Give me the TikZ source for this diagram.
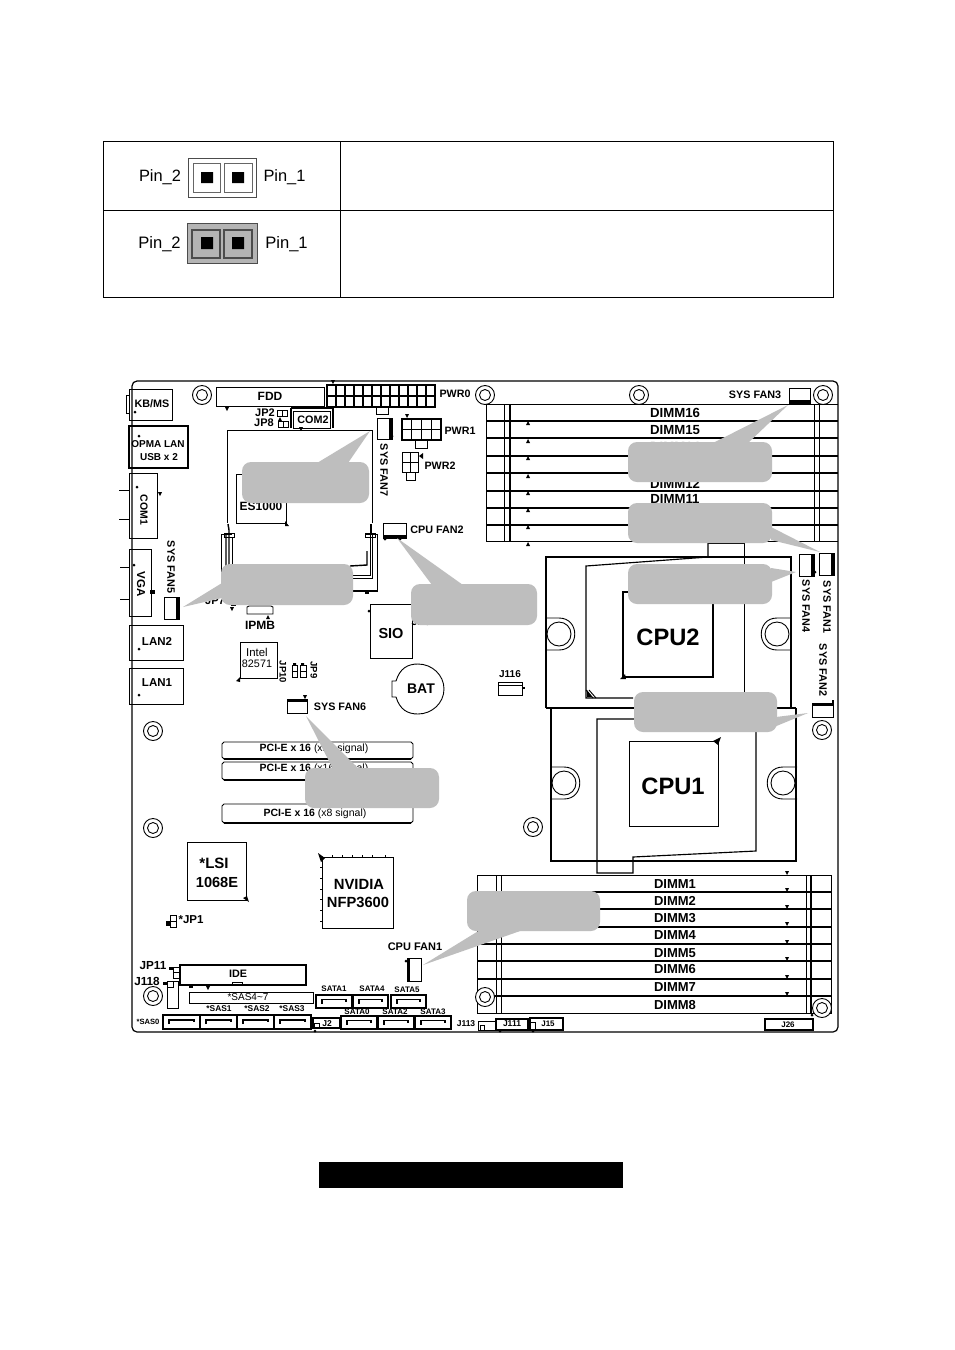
\documentclass[tikz,border=0pt]{standalone}
\usepackage{fontspec}
\setmainfont{Liberation Sans}
\definecolor{blob}{HTML}{BEBEBE}
\definecolor{pinfill}{HTML}{B4B4B4}
\tikzset{
  x=1pt,y=-1pt,
  every path/.style={line width=.9pt,line join=miter},
  ln/.style={draw=black},
  hv/.style={draw=black,line width=1.4pt},
  sink/.style={draw=black,line width=1.15pt},
  heavy/.style={draw=black,line width=3pt},
  blobnode/.style={fill=blob,draw=none,rounded corners=9pt,inner sep=0pt},
  tailfill/.style={fill=blob,draw=none},
  lab/.style={inner sep=0pt,font=\bfseries,text=black,align=center},
  reg/.style={inner sep=0pt,text=black,align=center},
  cellrule/.style={draw=black,line width=.85pt},
}
% text: name, size, x, y, text
\newcommand\tb[5]{\node[lab,font=\fontsize{#2}{#2}\selectfont\bfseries] (#1) at (#3,#4) {#5};}
\newcommand\tr[5]{\node[lab,rotate=-90,font=\fontsize{#2}{#2}\selectfont\bfseries] (#1) at (#3,#4) {#5};}
\newcommand\tn[5]{\node[reg,font=\fontsize{#2}{#2}\selectfont] (#1) at (#3,#4) {#5};}
% rectangle
\newcommand\bx[4]{\draw[ln] (#1,#2) rectangle (#3,#4);}
\newcommand\hvbx[4]{\draw[hv] (#1,#2) rectangle (#3,#4);}
\newcommand\dotp[2]{\fill (#1,#2) circle[radius=1.5pt];}
\newcommand\trid[2]{\fill ({#1-2},{#2-2}) -- ({#1+2},{#2-2}) -- (#1,{#2+2}) -- cycle;}
\newcommand\triu[2]{\fill ({#1-2},{#2+2}) -- ({#1+2},{#2+2}) -- (#1,{#2-2}) -- cycle;}
\newcommand\hole[2]{\draw[ln,fill=white] (#1,#2) circle[radius=9.5pt] (#1,#2) circle[radius=5.5pt];}
% callout: name, x1,y1,x2,y2, tip, base1, base2
\newcommand\callout[8]{%
  \coordinate (#1tip) at (#6);\coordinate (#1a) at (#7);\coordinate (#1b) at (#8);
  \node[blobnode,minimum width={#4pt-#2pt},minimum height={#5pt-#3pt}] (#1) at ({(#2+#4)/2},{(#3+#5)/2}) {};
  \fill[tailfill] (#1tip) -- (#1a) -- (#1b) -- cycle;}
% PCI slot
\newcommand\slot[4]{\draw[ln] ({#1+2},#2)--({#3-2},#2)--(#3,{#2+2})--(#3,{#4-2})--({#3-2},#4)--({#1+2},#4)--(#1,{#4-2})--(#1,{#2+2})--cycle;
  \draw[hv] ({#1+2},#4)--({#3-2},#4);}
% SATA style connector
\newcommand\sata[4]{\draw[hv] (#1,#2) rectangle (#3,#4);
  \draw[hv,line width=1.2pt] ({#1+6},{(#2+#4)/2+2})--({#1+6},{(#2+#4)/2-2})--({#3-6},{(#2+#4)/2-2})--({#3-6},{(#2+#4)/2});}
% heatsink holes: left side / right side
\newcommand\hl[2]{\draw[ln] (#1,#2) circle[radius=12pt];
  \draw[ln] ({#1-13},{#2-16})--(#1,{#2-16}) .. controls ({#1+21},{#2-16}) and ({#1+21},{#2+16}) .. (#1,{#2+16})--({#1-13},{#2+16});}
\newcommand\hr[2]{\draw[ln] (#1,#2) circle[radius=12pt];
  \draw[ln] ({#1+14},{#2-16})--(#1,{#2-16}) .. controls ({#1-21},{#2-16}) and ({#1-21},{#2+16}) .. (#1,{#2+16})--({#1+14},{#2+16});}
\begin{document}
\begin{tikzpicture}
\useasboundingbox (0,0) rectangle (954,1350);
\fill[white] (0,0) rectangle (954,1350);

%%% table
\draw[cellrule] (103,141) rectangle (833,297);
\draw[cellrule] (340,141)--(340,297) (103,210)--(833,210);
\draw[ln,draw=black!70] (188,158) rectangle (256,197);
\draw[ln,draw=black!60] (193,163) rectangle (220,192) (224,163) rectangle (252,192);
\fill (201,172) rectangle (213,183) (232,172) rectangle (244,183);
\tn{pina}{16.4}{160}{177}{Pin\_2}
\tn{pinb}{16.4}{284.5}{177}{Pin\_1}
\draw[ln,fill=pinfill,draw=black!70] (187,223) rectangle (257,263);
\draw[line width=1.3pt,draw=black!70] (192,230) rectangle (220,258) (224,230) rectangle (252,258);
\fill (201,237) rectangle (213,249) (232,237) rectangle (244,249);
\tn{pinc}{16.6}{159.5}{244}{Pin\_2}
\tn{pind}{16.6}{286.5}{244}{Pin\_1}

%%% board
\draw[line width=1.2pt,rounded corners=5pt] (132,381) rectangle (838,1032);
\foreach \p/\q in {202/395,485/395,639/395,823/395,153/731,153/828,153/996,533/827,822/730}{\hole{\p}{\q}}

%%% left I/O
\bx{129}{389}{172}{420}\bx{126}{395}{129}{413}\dotp{135}{412}
\tb{kbms}{10.8}{152}{404}{KB/MS}
\draw[line width=1.2pt] (129,426) rectangle (188,468);\dotp{139}{436}
\tb{opma}{10}{158}{444}{OPMA LAN}
\tb{usb}{10}{159}{457}{USB x 2}
\bx{129}{473}{157}{538}\draw[ln] (119,490)--(129,490) (119,519)--(129,519);\dotp{137}{487}\trid{160}{494}
\tr{comone}{10.5}{144}{510}{COM1}
\bx{129}{549}{151}{616}\draw[ln] (120,567)--(129,567) (120,599)--(129,599);\dotp{134}{565}\fill (150,590) rectangle (155,594);
\tr{vga}{11.5}{141}{584}{VGA}
\bx{164}{597}{179}{619}\draw[heavy] (177.5,597)--(177.5,619);
\tr{fanfive}{10.8}{171}{567}{SYS FAN5}
\bx{129}{625}{183}{660}\dotp{139}{649}
\tb{lantwo}{11.5}{157}{641}{LAN2}
\bx{129}{668}{183}{704}\dotp{139}{695}
\tb{lanone}{11.5}{157}{683}{LAN1}

%%% top row
\bx{216}{387}{324}{406}\trid{227}{409}
\tb{fdd}{12}{270}{396}{FDD}
\foreach \i in {0,...,12}{\draw[hv] ({327+\i*9},385)--({327+\i*9},407);}
\draw[hv] (327,385) rectangle (435,407) (327,396)--(435,396);
\bx{376}{407}{388}{414}\trid{333}{382}
\tb{pwrzero}{10.7}{455}{394}{PWR0}
\tb{jptwo}{11}{265}{413}{JP2}
\tb{jpeight}{11}{264}{423}{JP8}
\bx{277}{410}{287}{416}\draw[ln] (282,410)--(282,416);
\bx{278}{421}{288}{427}\draw[ln] (283,421)--(283,427);\triu{280}{419}
\draw[line width=2pt] (291,408)--(333,408)--(333,428) (291,408)--(291,428);
\bx{293}{411}{330}{428}
\tb{comtwo}{10.8}{313}{420}{COM2}
\trid{301}{429}

%%% left heatsink area
\draw[ln] (227,523)--(227,430)--(372,430)--(372,523);
\bx{236}{474}{286}{523}\fill (285,521)--(289,526)--(285,526)--cycle;
\tb{esk}{12}{261}{506}{ES1000}
% retention brackets
\draw[ln] (221,592)--(221,534)--(232,534);
\draw[hv] (226,534)--(226,570) (228,524)--(229,530)--(229,570);
\draw[ln] (232,538)--(232,570);
\draw[ln,draw=black] (224,533) rectangle (234,537);
\draw[ln] (377,592)--(377,534)--(366,534);
\draw[ln] (372,534)--(372,578)--(350,578);
\draw[ln] (370,534)--(370,575)--(350,575);
\draw[hv] (367,551)--(367,565)--(350,566);
\draw[hv] (221,591)--(377,591);
\draw[hv] (371,524)--(371,534);
\draw[ln] (365,533) rectangle (375,537);
\fill (365,592) rectangle (369,594);

\bx{377}{418}{392}{439}\draw[heavy] (390.5,418)--(390.5,439);\dotp{392}{436}
\tr{fanseven}{10.8}{384}{470}{SYS FAN7}
\foreach \i in {0,...,4}{\draw[hv] ({402+\i*9.75},419)--({402+\i*9.75},440);}
\draw[hv] (402,419) rectangle (441,440) (402,429.5)--(441,429.5);
\bx{415}{440}{427}{448}\trid{407}{416}
\tb{pwrone}{10.7}{460}{431}{PWR1}
\draw[ln] (402,452) rectangle (418,472) (410,452)--(410,472) (402,462)--(418,462);
\bx{406}{472}{415}{480}\fill (419,456)--(423,453)--(423,459)--cycle;
\tb{pwrtwo}{10.7}{440}{466}{PWR2}
\bx{383}{523}{406}{538}\draw[heavy] (383,536.5)--(406,536.5);\dotp{385}{539}\dotp{400}{539}
\tb{cpufantwo}{10.8}{437}{530}{CPU FAN2}
\draw[ln] (247,614)--(247,607)--(249,606)--(271,606)--(273,607)--(273,614)--cycle;\triu{268}{617}
\tb{ipmb}{12}{260}{625}{IPMB}
\tb{jpseven}{11}{215}{601}{JP7}
\fill (231,604) rectangle (236,606);\trid{232}{609}
\draw[ln] (370,658)--(370,604)--(412,604)--(412,658)--cycle;\dotp{369}{611}
\tb{sio}{14.5}{391}{633}{SIO}
\tb{jpthree}{10.5}{421}{622}{JP3}
\bx{240}{642}{277}{678}\fill (236,681)--(240,677)--(240,682)--cycle;
\tn{intel}{11.4}{257}{652}{Intel}
\tn{intelb}{10.8}{257}{664}{82571}
\draw[ln] (292,665) rectangle (297,677) (292,671)--(297,671) (300,665) rectangle (306,677) (300,671)--(306,671);
\fill (293,663) rectangle (296,665) (301,663) rectangle (304,665);
\tr{jpten}{9.5}{283}{672}{JP10}
\tr{jpnine}{9.5}{314}{670}{JP9}
\draw[ln] (392,681)--(396,681) .. controls (400,668) and (408,664) .. (418,664) .. controls (432,664) and (444,675) .. (444,689) .. controls (444,703) and (432,714) .. (418,714) .. controls (408,714) and (400,710) .. (396,697)--(392,697)--cycle;
\tb{bat}{14}{421}{689}{BAT}
\bx{287}{699}{307}{713}\draw[heavy] (287,700.5)--(307,700.5);\trid{305}{697}
\tb{fansix}{10.8}{340}{707}{SYS FAN6}

%%% upper DIMMs
\draw[ln] (486,404)--(486,541)--(838,541);
\draw[ln] (486,404)--(838,404);
\foreach \y in {421,438,456,473,491,508,525}{\draw[hv] (486,\y)--(838,\y);}
\draw[ln] (504,404)--(504,541) (814,404)--(814,541) (819,404)--(819,541);
\draw[hv] (510,404)--(510,541);
\foreach \y in {423,441,458,476,493,510,527,544}{\triu{528}{\y}}
\tb{dsixteen}{13.2}{675}{413}{DIMM16}
\tb{dfifteen}{13.2}{675}{430}{DIMM15}
\tb{dfourteen}{13.2}{675}{447}{DIMM14}
\tb{dthirteen}{13.2}{675}{465}{DIMM13}
\tb{dtwelve}{13.2}{675}{484}{DIMM12}
\tb{deleven}{13.2}{675}{499}{DIMM11}
\tb{dten}{13.2}{675}{516}{DIMM10}
\tb{dnine}{13.2}{675}{533}{DIMM9}

%%% right fans
\tb{fanthree}{10.8}{755}{395}{SYS FAN3}
\bx{789}{388}{810}{403}\draw[heavy] (789,401.5)--(810,401.5);
\bx{819}{553}{834}{575}\draw[heavy] (832.5,553)--(832.5,575);
\tr{fanone}{10.8}{827}{607}{SYS FAN1}
\bx{799}{554}{814}{576}\draw[heavy] (812.5,554)--(812.5,576);\dotp{815}{572}
\tr{fanfour}{10.8}{806}{606}{SYS FAN4}
\tr{fantwo}{10.8}{823}{670}{SYS FAN2}
\bx{812}{703}{833}{717}\draw[heavy] (812,704.5)--(833,704.5);\draw[hv] (833,700)--(833,704);

%%% CPU2
\draw[sink] (546,708)--(546,557)--(791,557)--(791,708);
\draw[sink] (708,543)--(708,557)--(586,566)--(586,698)--(633,698);
\draw[ln] (708,543)--(744,543)--(744,695);
\draw[sink] (623,677)--(623,592)--(713,592)--(713,677)--cycle;
\fill (620,679)--(625,674)--(626,679)--cycle;
\draw[ln] (586,690)--(593,698)(589,690)--(596,698);
\fill (587,690)--(592,697)--(587,697)--cycle;
\hl{559}{634}\hr{777}{634}
\tb{cputwo}{23.7}{668}{637}{CPU2}

%%% CPU1
\draw[sink] (546,708)--(796,708);
\draw[sink] (551,708)--(551,861)--(796,861)--(796,708);
\draw[sink] (597,873)--(597,719)--(756,719)--(756,851)--(633,857)--(633,873)--cycle;
\draw[ln] (629,741) rectangle (718,826);
\fill (713,741)--(721,737)--(718,745)--cycle;
\hl{564}{783}\hr{783}{783}
\tb{cpuone}{23.7}{673}{786}{CPU1}

%%% PCI-E
\slot{222}{742}{413}{759}
\slot{222}{762}{413}{780}
\slot{222}{804}{413}{823}
\node[reg,font=\fontsize{10.5}{10.5}\selectfont] (pcia) at (314,749) {\textbf{PCI-E x 16} (x16 signal)};
\node[reg,font=\fontsize{10.5}{10.5}\selectfont] (pcib) at (314,769) {\textbf{PCI-E x 16} (x16 signal)};
\node[reg,font=\fontsize{10.5}{10.5}\selectfont] (pcic) at (315,814) {\textbf{PCI-E x 16} (x8 signal)};

%%% chips
\bx{187}{842}{246}{900}\fill (243,898)--(247,896)--(249,902)--cycle;
\tb{lsia}{15}{214}{863}{*LSI}
\tb{lsib}{14.6}{217}{882}{1068E}
\draw[ln] (170,915) rectangle (176,927) (170,921)--(176,921);\fill (166,921) rectangle (170,926);
\tb{jpone}{11.5}{191}{920}{*JP1}
\bx{322}{857}{393}{928}\fill (318,853)--(325,858)--(321,862)--cycle;
\foreach \i in {332,342,352,362,372,385}{\draw[ln] (\i,855)--(\i,857);}
\foreach \i in {867,878,889,899,910,921}{\draw[ln] (320,\i)--(322,\i);}
\tb{nvidia}{14.8}{359}{884}{NVIDIA}
\tb{nfp}{14.7}{358}{902}{NFP3600}
\tb{cpufanone}{11}{415}{947}{CPU FAN1}
\bx{407}{958}{421}{981}\draw[heavy] (408.5,958)--(408.5,981);\dotp{406}{961}

%%% IDE etc
\draw[hv,line width=1.2pt] (180,965) rectangle (306,985);
\bx{232}{982}{242}{985}
\tb{ide}{10.8}{238}{974}{IDE}
\tb{jpeleven}{11.7}{153}{966}{JP11}
\draw[ln] (173,967) rectangle (179,978) (173,972.5)--(179,972.5);\fill (169,967) rectangle (173,970);
\tb{jeighteen}{11.7}{147}{981}{J118}
\draw[ln] (167,981) rectangle (178,1008) (167,987)--(173,987)--(173,981);\fill (163,982) rectangle (167,985);
\bx{189}{992}{313}{1003}
\tn{sasfour}{10}{248}{997}{*SAS4\textasciitilde 7}
\fill (189,985) rectangle (193,988);\trid{208}{988}
\sata{316}{995}{352}{1008}\sata{353}{995}{388}{1008}\sata{391}{995}{426}{1008}
\tb{sataone}{8}{334}{989}{SATA1}
\tb{satafour}{8}{372}{989}{SATA4}
\tb{satafive}{8}{407}{990}{SATA5}
\sata{163}{1015}{200}{1029}\sata{200}{1015}{237}{1029}\sata{237}{1015}{274}{1029}\sata{274}{1015}{311}{1029}
\tb{saszero}{7.6}{148}{1022}{*SAS0}
\tb{sasone}{8.4}{219}{1009}{*SAS1}
\tb{sastwo}{8.4}{257}{1009}{*SAS2}
\tb{sasthree}{8.4}{292}{1009}{*SAS3}
\hvbx{313}{1018}{340}{1028}\draw[ln] (314,1023) rectangle (319,1028);\dotp{315}{1031}
\tb{jtwo}{8.5}{327}{1024}{J2}
\sata{341}{1016}{377}{1029}\sata{378}{1016}{414}{1029}\sata{415}{1016}{451}{1029}
\tb{satazero}{8}{357}{1012}{SATA0}
\tb{satatwo}{8}{395}{1012}{SATA2}
\tb{satathree}{8}{433}{1012}{SATA3}
\tb{joneonethree}{8.5}{466}{1024}{J113}
\bx{478}{1021}{496}{1030}\draw[ln] (480,1025) rectangle (484,1030);
\hvbx{496}{1019}{528}{1030}\dotp{500}{1031}
\tb{jeleven}{8.5}{512}{1024}{J111}
\hvbx{530}{1018}{563}{1030}\draw[ln] (530,1022) rectangle (535,1030);\dotp{533}{1031}
\tb{jfifteen}{8}{548}{1024}{J15}
\hvbx{765}{1019}{813}{1030}\dotp{812}{1015}
\tb{jtwosix}{8}{788}{1025}{J26}
\tb{joneonesix}{10}{510}{674}{J116}
\bx{498}{682}{522}{695}\draw[hv] (498,685.5)--(522,685.5);\fill (522,687) rectangle (525,689);

%%% lower DIMMs
\draw[ln] (477,875)--(831,875)--(831,1013)--(477,1013)--cycle;
\foreach \y in {892,909,927,944,961,979,996}{\draw[hv] (477,\y)--(831,\y);}
\draw[ln] (496,875)--(496,1013) (501,875)--(501,1013) (806,875)--(806,1013);
\draw[hv] (811,875)--(811,1013);
\foreach \y in {873,890,907,924,942,959,977,994}{\trid{787}{\y}}
\tb{dsa}{13}{675}{884}{DIMM1}
\tb{dsb}{13}{675}{901}{DIMM2}
\tb{dsc}{13}{675}{918}{DIMM3}
\tb{dsd}{13}{675}{935}{DIMM4}
\tb{dse}{13}{675}{953}{DIMM5}
\tb{dsf}{13}{675}{969}{DIMM6}
\tb{dsg}{13}{675}{987}{DIMM7}
\tb{dsh}{13}{675}{1005}{DIMM8}
\hole{822}{1008}\hole{485}{997}

%%% callouts
\callout{cfseven}{242}{462}{369}{503}{370,431}{317,463}{348,463}
\callout{cffive}{221}{564}{353}{605}{183,607}{222,583}{222,598}
\callout{cfcputwo}{411}{584}{537}{625}{397,538}{432,585}{463,585}
\callout{cfthree}{628}{442}{772}{482}{788,405}{713,443}{748,443}
\callout{cfone}{628}{503}{772}{543}{820,552}{771,527}{771,540}
\callout{cffour}{628}{564}{772}{604}{796,572}{771,568}{771,582}
\callout{cftwo}{634}{692}{777}{732}{808,713}{776,717}{774,727}
\callout{cfsix}{305}{768}{439}{808}{306,716}{333,769}{359,769}
\callout{cfcpuone}{467}{891}{600}{931}{423,965}{480,930}{523,930}

%%% redaction bar
\fill[black] (319,1162) rectangle (623,1188);
\end{tikzpicture}
\end{document}
